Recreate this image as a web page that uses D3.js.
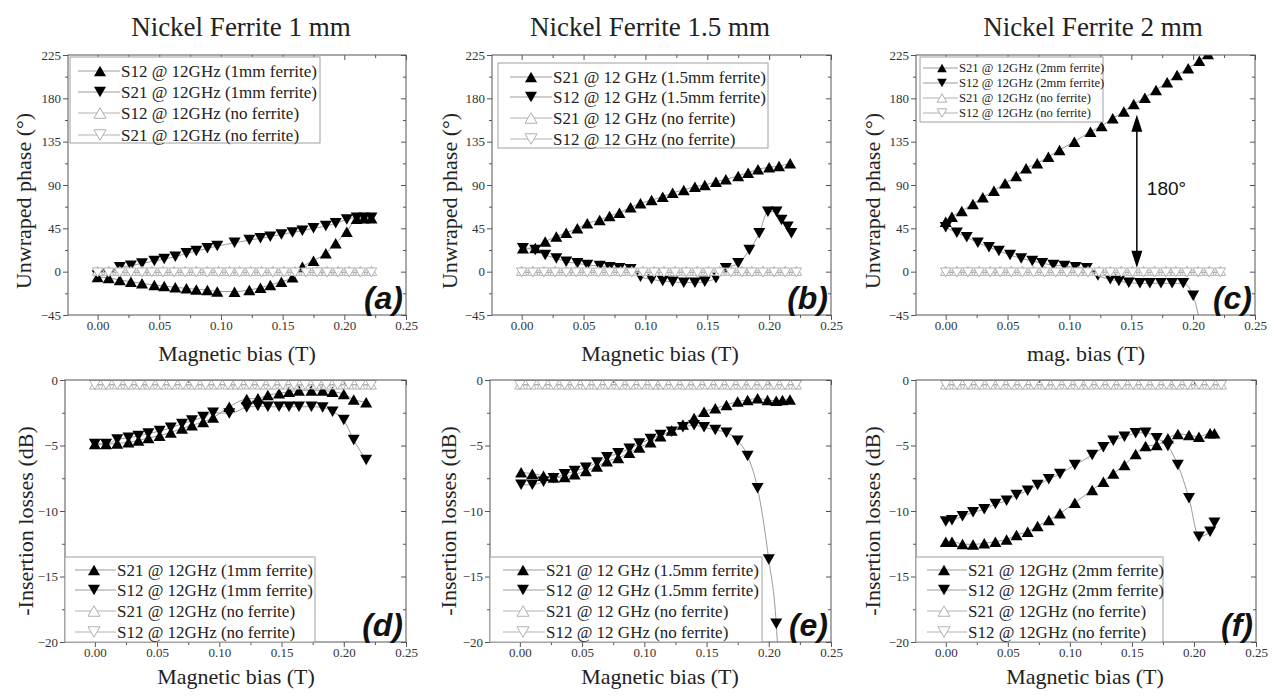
<!DOCTYPE html>
<html><head><meta charset="utf-8">
<script src="https://cdn.jsdelivr.net/npm/d3@7"></script>
<style>body{margin:0;background:#fff}svg{display:block}</style>
</head><body>
<svg id="chart" width="1275" height="696"></svg>
<script>
// ---------------- DATA ----------------
const titles = ["Nickel Ferrite 1 mm", "Nickel Ferrite 1.5 mm", "Nickel Ferrite 2 mm"];
const phaseTicks = [-45, 0, 45, 90, 135, 180, 225];
const lossTicks = [-20, -15, -10, -5, 0];
const biasTicks = [0.00, 0.05, 0.10, 0.15, 0.20, 0.25];

// no-ferrite reference sweep (same in every panel)
const xNoFerrite = [0.000,0.009,0.018,0.027,0.036,0.044,0.053,0.062,0.071,0.080,0.089,0.098,0.107,0.115,0.124,0.133,0.142,0.151,0.160,0.169,0.178,0.186,0.195,0.204,0.213,0.222];
const phaseNoFerriteUp   = [0.8,0.9,0.8,0.8,0.9,0.8,0.8,0.9,0.8,0.8,0.9,0.8,0.8,0.9,0.8,0.8,0.9,0.8,0.8,0.9,0.8,0.8,0.9,0.8,0.9,0.8];
const phaseNoFerriteDown = [-0.8,-0.9,-0.8,-0.8,-0.9,-0.8,-0.8,-0.9,-0.8,-0.8,-0.9,-0.8,-0.8,-0.9,-0.8,-0.8,-0.9,-0.8,-0.8,-0.9,-0.8,-0.8,-0.9,-0.8,-0.9,-0.8];
const lossNoFerriteUp    = [-0.35,-0.35,-0.34,-0.35,-0.35,-0.34,-0.35,-0.35,-0.34,-0.35,-0.35,-0.34,-0.35,-0.35,-0.34,-0.35,-0.35,-0.34,-0.35,-0.35,-0.34,-0.35,-0.35,-0.34,-0.35,-0.35];
const lossNoFerriteDown  = [-0.38,-0.38,-0.37,-0.38,-0.38,-0.37,-0.38,-0.38,-0.37,-0.38,-0.38,-0.37,-0.38,-0.38,-0.37,-0.38,-0.38,-0.37,-0.38,-0.38,-0.37,-0.38,-0.38,-0.37,-0.38,-0.38];

// (a) phase, 1 mm
const xA = [0.000,0.009,0.018,0.027,0.036,0.046,0.054,0.063,0.072,0.080,0.089,0.097,0.111,0.123,0.132,0.140,0.149,0.158,0.166,0.175,0.185,0.193,0.202,0.210,0.216,0.222];
const phaseS12_1mm = [-5.5,-6.5,-8.7,-10.4,-12.1,-13.9,-14.9,-16.3,-17.3,-18.4,-19.0,-20.5,-20.8,-19.0,-16.6,-13.9,-10.4,-5.9,5.0,11.4,19.0,29.4,41.5,55.0,55.5,55.5];
const phaseS21_1mm = [-4.0,-3.0,4.5,6.2,8.6,11.0,13.1,15.6,19.0,21.4,24.2,26.6,30.0,32.8,34.6,36.3,38.7,40.8,42.5,45.0,47.4,50.2,54.3,56.0,56.0,56.0];

// (b) phase, 1.5 mm
const xB21 = [0.001,0.011,0.019,0.028,0.036,0.045,0.053,0.063,0.071,0.079,0.088,0.096,0.105,0.114,0.122,0.131,0.140,0.148,0.157,0.165,0.175,0.183,0.191,0.200,0.208,0.217];
const phaseS21_15mm = [24.2,24.5,31.2,36.4,40.5,45.0,50.2,53.7,57.8,61.3,66.8,71.0,74.4,77.9,82.0,84.8,88.3,90.0,93.5,95.9,99.4,102.8,106.3,108.4,109.7,112.5];
const xB12 = [0.001,0.011,0.019,0.028,0.036,0.045,0.053,0.063,0.071,0.079,0.088,0.096,0.105,0.114,0.122,0.131,0.140,0.148,0.157,0.165,0.175,0.184,0.192,0.199,0.206,0.210,0.215,0.218];
const phaseS12_15mm = [24.2,22.5,17.3,13.8,10.4,8.7,6.9,5.9,4.5,3.5,2.4,-5.2,-8.0,-9.7,-10.4,-11.4,-11.4,-10.4,-6.9,3.5,8.7,22.5,39.8,62.3,62.3,53.7,46.7,39.8];

// (c) phase, 2 mm
const xC21 = [0.000,0.005,0.013,0.022,0.030,0.039,0.048,0.057,0.065,0.074,0.083,0.092,0.104,0.117,0.126,0.135,0.144,0.152,0.161,0.170,0.179,0.187,0.196,0.205,0.212];
const phaseS21_2mm = [51.9,57.1,63.0,70.3,77.2,84.1,91.7,99.4,107.3,112.5,119.4,126.4,135.0,145.4,151.3,159.3,166.2,174.1,180.7,188.7,196.6,204.3,211.2,219.1,226.0];
const xC12 = [0.000,0.009,0.017,0.026,0.035,0.043,0.052,0.061,0.070,0.078,0.087,0.096,0.105,0.114,0.123,0.133,0.140,0.148,0.157,0.165,0.174,0.183,0.192,0.200,0.208];
const phaseS12_2mm = [46.0,40.5,35.7,30.1,25.3,21.5,17.3,13.8,11.1,8.7,6.9,5.9,4.5,3.5,-4.0,-8.0,-9.7,-11.4,-12.1,-12.1,-12.1,-12.1,-12.1,-25.0,-70.0];

// (d) insertion loss, 1 mm
const xD = [0.000,0.009,0.018,0.027,0.035,0.043,0.052,0.061,0.070,0.078,0.087,0.095,0.108,0.122,0.131,0.139,0.148,0.156,0.164,0.174,0.183,0.191,0.200,0.208,0.218];
const lossS21_1mm = [-4.89,-4.89,-4.85,-4.75,-4.62,-4.42,-4.25,-4.00,-3.70,-3.45,-3.20,-2.87,-2.04,-1.45,-1.40,-1.15,-1.02,-0.89,-0.81,-0.81,-0.81,-0.89,-1.07,-1.48,-1.70];
const lossS12_1mm = [-4.89,-4.89,-4.55,-4.40,-4.28,-4.08,-3.90,-3.65,-3.35,-3.10,-2.83,-2.50,-2.55,-2.09,-1.99,-2.04,-2.04,-2.04,-2.04,-2.04,-2.09,-2.42,-3.05,-4.58,-6.10];

// (e) insertion loss, 1.5 mm
const xE21 = [0.001,0.010,0.019,0.027,0.036,0.044,0.053,0.062,0.070,0.079,0.088,0.096,0.105,0.113,0.122,0.131,0.140,0.148,0.157,0.166,0.175,0.183,0.191,0.199,0.206,0.211,0.217];
const lossS21_15mm = [-7.05,-7.15,-7.30,-7.45,-7.40,-7.20,-6.95,-6.60,-6.20,-5.95,-5.55,-5.15,-4.75,-4.30,-3.85,-3.40,-2.90,-2.42,-2.16,-1.91,-1.65,-1.53,-1.40,-1.53,-1.58,-1.53,-1.48];
const xE12 = [0.001,0.010,0.019,0.027,0.036,0.044,0.053,0.062,0.070,0.079,0.088,0.096,0.105,0.113,0.122,0.131,0.140,0.148,0.157,0.166,0.175,0.183,0.191,0.200,0.206,0.209];
const lossS12_15mm = [-8.00,-8.00,-7.76,-7.50,-7.20,-6.95,-6.70,-6.30,-5.90,-5.60,-5.25,-4.85,-4.50,-4.20,-3.95,-3.60,-3.45,-3.61,-3.82,-4.02,-4.63,-5.80,-8.27,-13.70,-18.60,-24.00];

// (f) insertion loss, 2 mm
const xF = [0.000,0.005,0.0135,0.022,0.031,0.040,0.049,0.057,0.066,0.074,0.083,0.092,0.104,0.118,0.127,0.135,0.144,0.153,0.161,0.170,0.179,0.187,0.196,0.204,0.213,0.2165];
const lossS21_2mm = [-12.34,-12.34,-12.52,-12.55,-12.47,-12.34,-12.17,-11.83,-11.58,-11.15,-10.69,-10.18,-9.37,-8.40,-7.76,-7.13,-6.49,-5.65,-5.04,-4.96,-4.45,-4.12,-4.20,-4.33,-4.07,-4.07];
const lossS12_2mm = [-10.80,-10.70,-10.40,-10.10,-9.87,-9.47,-9.21,-8.78,-8.45,-8.02,-7.58,-7.18,-6.49,-5.73,-5.14,-4.63,-4.33,-4.07,-4.02,-4.45,-5.04,-6.49,-9.03,-11.96,-11.58,-10.89];

// ---------------- LAYOUT ----------------
const svg = d3.select("#chart");
const serif = "'Liberation Serif','Times New Roman',serif";
const sans = "'Liberation Sans',Arial,sans-serif";

function tri(up, w, h) {
  return up ? `M0,${-h/2}L${w/2},${h/2}L${-w/2},${h/2}Z` : `M0,${h/2}L${w/2},${-h/2}L${-w/2},${-h/2}Z`;
}

const rowTop = {t: 55, b: 315}, rowBot = {t: 380, b: 642};
const panels = [
  {id:"a", l:68, r:406, row:rowTop, kind:"phase", title:titles[0], tcx:241, xlab:"Magnetic bias (T)", xlx:237, ylx:23,
   series:[{x:xA,y:phaseS12_1mm,up:true},{x:xA,y:phaseS21_1mm,up:false}],
   nf:[phaseNoFerriteUp, phaseNoFerriteDown],
   legend:{x0:70,x1:320,y0:57,y1:143,rows:[71,92,113,135],lx0:78,lx1:120,mx:100,tx:121,fs:17,ms:1,
     labels:["S12 @ 12GHz (1mm ferrite)","S21 @ 12GHz (1mm ferrite)","S12 @ 12GHz (no ferrite)","S21 @ 12GHz (no ferrite)"]}},
  {id:"b", l:492, r:831, row:rowTop, kind:"phase", title:titles[1], tcx:650, xlab:"Magnetic bias (T)", xlx:660, ylx:449,
   series:[{x:xB21,y:phaseS21_15mm,up:true},{x:xB12,y:phaseS12_15mm,up:false}],
   nf:[phaseNoFerriteUp, phaseNoFerriteDown],
   legend:{x0:498,x1:768,y0:63,y1:148,rows:[77,97,118,139],lx0:510,lx1:552,mx:531,tx:553,fs:17,ms:1,
     labels:["S21 @ 12 GHz (1.5mm ferrite)","S12 @ 12 GHz (1.5mm ferrite)","S21 @ 12 GHz (no ferrite)","S12 @ 12 GHz (no ferrite)"]}},
  {id:"c", l:916, r:1255, row:rowTop, kind:"phase", title:titles[2], tcx:1093, xlab:"mag. bias (T)", xlx:1086, ylx:872,
   series:[{x:xC21,y:phaseS21_2mm,up:true},{x:xC12,y:phaseS12_2mm,up:false}],
   nf:[phaseNoFerriteUp, phaseNoFerriteDown],
   legend:{x0:920,x1:1103,y0:57,y1:122,rows:[68,83,98,113],lx0:923,lx1:958,mx:942,tx:959,fs:12.6,ms:0.8,
     labels:["S21 @ 12GHz (2mm ferrite)","S12 @ 12GHz (2mm ferrite)","S21 @ 12GHz (no ferrite)","S12 @ 12GHz (no ferrite)"]}},
  {id:"d", l:65, r:406, row:rowBot, kind:"loss", xlab:"Magnetic bias (T)", xlx:236, ylx:25,
   series:[{x:xD,y:lossS21_1mm,up:true},{x:xD,y:lossS12_1mm,up:false}],
   nf:[lossNoFerriteUp, lossNoFerriteDown],
   legend:{x0:65,x1:315,y0:557,y1:642,rows:[570,590,611,632],lx0:75,lx1:116,mx:94,tx:117,fs:17,ms:1,
     labels:["S21 @ 12GHz (1mm ferrite)","S12 @ 12GHz (1mm ferrite)","S21 @ 12GHz (no ferrite)","S12 @ 12GHz (no ferrite)"]}},
  {id:"e", l:490, r:831, row:rowBot, kind:"loss", xlab:"Magnetic bias (T)", xlx:660, ylx:448,
   series:[{x:xE21,y:lossS21_15mm,up:true},{x:xE12,y:lossS12_15mm,up:false}],
   nf:[lossNoFerriteUp, lossNoFerriteDown],
   legend:{x0:490,x1:762,y0:557,y1:642,rows:[570,590,611,632],lx0:503,lx1:545,mx:523,tx:546,fs:17,ms:1,
     labels:["S21 @ 12 GHz (1.5mm ferrite)","S12 @ 12 GHz (1.5mm ferrite)","S21 @ 12 GHz (no ferrite)","S12 @ 12 GHz (no ferrite)"]}},
  {id:"f", l:916, r:1256, row:rowBot, kind:"loss", xlab:"Magnetic bias (T)", xlx:1085, ylx:872,
   series:[{x:xF,y:lossS21_2mm,up:true},{x:xF,y:lossS12_2mm,up:false}],
   nf:[lossNoFerriteUp, lossNoFerriteDown],
   legend:{x0:916,x1:1163,y0:557,y1:642,rows:[570,590,611,632],lx0:927,lx1:967,mx:944,tx:968,fs:17,ms:1,
     labels:["S21 @ 12GHz (2mm ferrite)","S12 @ 12GHz (2mm ferrite)","S21 @ 12GHz (no ferrite)","S12 @ 12GHz (no ferrite)"]}}
];

const FRAME = "#555", LINE_F = "#9a9a9a", NF = "#b0b0b0";
const MW = 12, MH = 10.5;

panels.forEach(p => {
  const g = svg.append("g");
  const x = d3.scaleLinear().domain([-0.024, 0.25]).range([p.l, p.r]);
  const isPhase = p.kind === "phase";
  const y = d3.scaleLinear().domain(isPhase ? [-45, 225] : [-20, 0]).range([p.row.b, p.row.t]);
  const yMajor = isPhase ? phaseTicks : lossTicks;
  const yStep = isPhase ? 22.5 : 2.5;
  const yMinor = d3.range(y.domain()[0] + yStep, y.domain()[1], yStep * 2);
  const xMinor = [0.025, 0.075, 0.125, 0.175, 0.225];

  const styleAxis = sel => {
    sel.select(".domain").remove();
    sel.selectAll(".tick line").attr("stroke", FRAME);
    sel.selectAll("text").attr("font-family", serif).attr("font-size", 13).attr("fill", "#333");
  };
  g.append("g").attr("transform", `translate(0,${p.row.b})`)
    .call(d3.axisBottom(x).tickValues(biasTicks).tickSize(5).tickPadding(1).tickFormat(d3.format(".2f"))).call(styleAxis);
  g.append("g").attr("transform", `translate(0,${p.row.b})`)
    .call(d3.axisBottom(x).tickValues(xMinor).tickSize(3).tickFormat("")).call(styleAxis);
  g.append("g").attr("transform", `translate(0,${p.row.t})`)
    .call(d3.axisBottom(x).tickValues(biasTicks).tickSize(5).tickFormat("")).call(styleAxis);
  g.append("g").attr("transform", `translate(0,${p.row.t})`)
    .call(d3.axisBottom(x).tickValues(xMinor).tickSize(3).tickFormat("")).call(styleAxis);
  g.append("g").attr("transform", `translate(${p.l},0)`)
    .call(d3.axisLeft(y).tickValues(yMajor).tickSize(5).tickPadding(2).tickFormat(d3.format("d"))).call(styleAxis);
  g.append("g").attr("transform", `translate(${p.l},0)`)
    .call(d3.axisLeft(y).tickValues(yMinor).tickSize(3).tickFormat("")).call(styleAxis);
  g.append("g").attr("transform", `translate(${p.r},0)`)
    .call(d3.axisLeft(y).tickValues(yMajor).tickSize(5).tickFormat("")).call(styleAxis);
  g.append("g").attr("transform", `translate(${p.r},0)`)
    .call(d3.axisLeft(y).tickValues(yMinor).tickSize(3).tickFormat("")).call(styleAxis);

  svg.append("clipPath").attr("id", "clip-" + p.id).append("rect")
    .attr("x", p.l).attr("y", p.row.t).attr("width", p.r - p.l).attr("height", p.row.b - p.row.t);
  const dg = g.append("g").attr("clip-path", `url(#clip-${p.id})`);
  const line = d3.line().x(d => x(d[0])).y(d => y(d[1])).curve(d3.curveMonotoneX);

  p.series.forEach(s => {
    const pts = s.x.map((v, i) => [v, s.y[i]]);
    dg.append("path").attr("d", line(pts)).attr("fill", "none").attr("stroke", LINE_F).attr("stroke-width", 1);
  });
  p.series.forEach(s => {
    const pts = s.x.map((v, i) => [v, s.y[i]]);
    dg.selectAll(null).data(pts).join("path")
      .attr("transform", d => `translate(${x(d[0])},${y(d[1])})`)
      .attr("d", tri(s.up, MW, MH)).attr("fill", "#000");
  });
  p.nf.forEach((vals, k) => {
    const pts = xNoFerrite.map((v, i) => [v, vals[i]]);
    dg.append("path").attr("d", line(pts)).attr("fill", "none").attr("stroke", NF).attr("stroke-width", 1);
  });
  p.nf.forEach((vals, k) => {
    const pts = xNoFerrite.map((v, i) => [v, vals[i]]);
    dg.selectAll(null).data(pts).join("path")
      .attr("transform", d => `translate(${x(d[0])},${y(d[1])})`)
      .attr("d", tri(k === 0, MW - 1.5, MH - 1.5)).attr("fill", "#fff").attr("stroke", NF).attr("stroke-width", 1);
  });

  g.append("rect").attr("x", p.l).attr("y", p.row.t).attr("width", p.r - p.l).attr("height", p.row.b - p.row.t)
    .attr("fill", "none").attr("stroke", FRAME).attr("stroke-width", 1);

  const L = p.legend;
  g.append("rect").attr("x", L.x0).attr("y", L.y0).attr("width", L.x1 - L.x0).attr("height", L.y1 - L.y0)
    .attr("fill", "#fff").attr("stroke", "#a0a0a0").attr("stroke-width", 1);
  L.labels.forEach((lab, i) => {
    const yy = L.rows[i];
    const filled = i < 2;
    g.append("line").attr("x1", L.lx0).attr("x2", L.lx1).attr("y1", yy).attr("y2", yy)
      .attr("stroke", filled ? LINE_F : NF).attr("stroke-width", 1);
    g.append("path").attr("transform", `translate(${L.mx},${yy})`)
      .attr("d", tri(i % 2 === 0, MW * L.ms, MH * L.ms))
      .attr("fill", filled ? "#000" : "#fff").attr("stroke", filled ? "none" : NF);
    g.append("text").attr("x", L.tx).attr("y", yy).attr("dy", "0.35em")
      .attr("font-family", serif).attr("font-size", L.fs).attr("fill", "#222").text(lab);
  });

  g.append("text").attr("x", p.r - 3).attr("y", p.row.b - 6).attr("text-anchor", "end")
    .attr("font-family", sans).attr("font-weight", "bold").attr("font-style", "italic")
    .attr("font-size", 32).attr("fill", "#111").text(`(${p.id})`);

  const xlY = p.row === rowTop ? 361 : 684;
  g.append("text").attr("x", p.xlx).attr("y", xlY).attr("text-anchor", "middle")
    .attr("font-family", serif).attr("font-size", 22).attr("fill", "#222").text(p.xlab);
  const ycy = (p.row.t + p.row.b) / 2 + (isPhase ? 16 : 10);
  g.append("text").attr("transform", `translate(${p.ylx + 8},${ycy}) rotate(-90)`).attr("text-anchor", "middle")
    .attr("font-family", serif).attr("font-size", 22).attr("fill", "#222")
    .text(isPhase ? "Unwraped phase (°)" : "-Insertion losses (dB)");
  if (p.title) {
    svg.append("text").attr("x", p.tcx).attr("y", 36).attr("text-anchor", "middle")
      .attr("font-family", serif).attr("font-size", 27).attr("fill", "#222").text(p.title);
  }

  if (p.id === "c") {
    const ax = x(0.1545), ya = y(163), yb = y(4);
    g.append("line").attr("x1", ax).attr("x2", ax).attr("y1", ya + 14).attr("y2", yb - 14)
      .attr("stroke", "#000").attr("stroke-width", 1.5);
    g.append("path").attr("d", `M${ax},${ya}L${ax + 5.5},${ya + 17}L${ax - 5.5},${ya + 17}Z`).attr("fill", "#000");
    g.append("path").attr("d", `M${ax},${yb}L${ax + 5.5},${yb - 17}L${ax - 5.5},${yb - 17}Z`).attr("fill", "#000");
    g.append("text").attr("x", ax + 10).attr("y", y(80)).attr("font-family", sans).attr("font-size", 19)
      .attr("fill", "#111").text("180°");
  }
});
</script>
</body></html>
